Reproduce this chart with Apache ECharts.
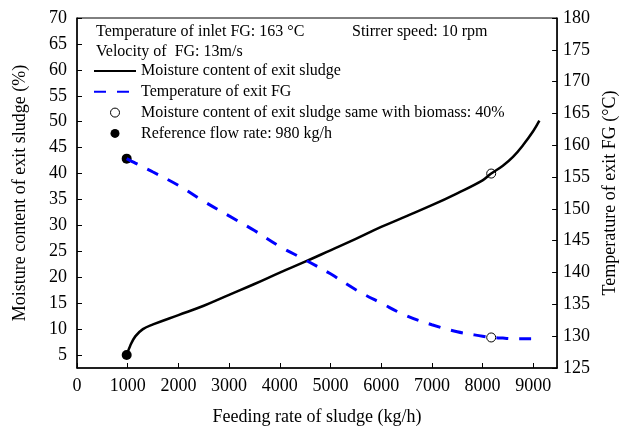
<!DOCTYPE html>
<html>
<head>
<meta charset="utf-8">
<script src="https://cdn.jsdelivr.net/npm/echarts@6/dist/echarts.min.js"></script>
<style>
  html, body { margin: 0; padding: 0; background: #fff; }
  #chart { width: 627px; height: 431px; }
</style>
</head>
<body>
<div id="chart"></div>
<script>
// Feeding rate of sludge (kg/h)
const feedRate = [980, 1050, 1150, 1300, 1500, 2000, 2500, 3000, 3500, 4000, 4500, 5000,
    5500, 6000, 6500, 7000, 7500, 8000, 8170, 8400, 8600, 8800, 9000, 9120];
// Moisture content of exit sludge (%)
const moisture = [5.0, 6.8, 8.6, 10.0, 10.9, 12.7, 14.5, 16.6, 18.7, 20.9, 23.0, 25.2,
    27.4, 29.7, 31.8, 33.9, 36.2, 38.7, 40.0, 41.5, 43.2, 45.5, 48.2, 50.2];
// Temperature of exit FG (°C)
const exitTemp = [157.9, 157.6, 157.2, 156.6, 155.8, 153.7, 151.2, 148.9, 146.6, 144.1, 142.0, 139.8,
    137.3, 135.2, 133.2, 131.8, 130.7, 130.0, 129.8, 129.7, 129.6, 129.6, 129.6, 129.6];

// Marked points
const biomassPoint = { feed: 8170, moisture: 40.0, temp: 129.8 };
const referencePoint = { feed: 980, moisture: 5.0, temp: 157.9 };

// Tick labels
const xTicks = [0, 1000, 2000, 3000, 4000, 5000, 6000, 7000, 8000, 9000];
const leftTicks = [5, 10, 15, 20, 25, 30, 35, 40, 45, 50, 55, 60, 65, 70];

const names = {
    moisture: 'Moisture content of exit sludge',
    temp: 'Temperature of exit FG',
    biomass: 'Moisture content of exit sludge same with biomass: 40%',
    reference: 'Reference flow rate: 980 kg/h'
};

const font = 'Liberation Serif, Times New Roman, serif';
const chart = echarts.init(document.getElementById('chart'));

const pairs = (xs, ys) => xs.map((x, i) => [x, ys[i]]);

// marker styles
const hollow = { color: '#fff', borderColor: '#000', borderWidth: 1, opacity: 1 };
const solid = { color: '#000', opacity: 1 };

chart.setOption({
    animation: false,
    textStyle: { fontFamily: font, color: '#000' },
    grid: {
        left: 77, right: 65, top: 18, bottom: 61,
        show: true, borderColor: '#000', borderWidth: 1
    },
    legend: {
        orient: 'vertical',
        left: 93,
        top: 63,
        padding: 0,
        itemWidth: 42,
        itemHeight: 9,
        itemGap: 4.8,
        textStyle: { fontFamily: font, fontSize: 16, color: '#000' },
        data: [
            { name: names.moisture, itemStyle: { opacity: 0 } },
            { name: names.temp, itemStyle: { opacity: 0 } },
            { name: names.biomass, icon: 'circle', itemStyle: { borderWidth: 1, opacity: 1 } },
            { name: names.reference, icon: 'circle', itemStyle: { opacity: 1 } }
        ]
    },
    graphic: [
        { type: 'text', left: 96, top: 24, style: { text: 'Temperature of inlet FG: 163 °C', font: '16px ' + font, fill: '#000' } },
        { type: 'text', left: 352, top: 24, style: { text: 'Stirrer speed: 10 rpm', font: '16px ' + font, fill: '#000' } },
        { type: 'text', left: 96, top: 44, style: { text: 'Velocity of  FG: 13m/s', font: '16px ' + font, fill: '#000' } }
    ],
    xAxis: {
        type: 'value',
        min: 0,
        max: 9470,
        name: 'Feeding rate of sludge (kg/h)',
        nameLocation: 'middle',
        nameGap: 40,
        nameTextStyle: { fontFamily: font, fontSize: 18, color: '#000' },
        axisLine: { lineStyle: { color: '#000', width: 1.5 } },
        axisTick: { inside: true, length: 5, customValues: xTicks, lineStyle: { color: '#000' } },
        axisLabel: {
            customValues: xTicks, formatter: v => String(v),
            fontFamily: font, fontSize: 18, color: '#000', margin: 9
        },
        splitLine: { show: false }
    },
    yAxis: [
        {
            type: 'value',
            min: 2.5,
            max: 70,
            name: 'Moisture content of exit sludge (%)',
            nameLocation: 'middle',
            nameGap: 48,
            nameTextStyle: { fontFamily: font, fontSize: 18, color: '#000' },
            axisLine: { show: true, lineStyle: { color: '#000', width: 1.5 } },
            axisTick: { show: true, inside: true, length: 5, customValues: leftTicks, lineStyle: { color: '#000' } },
            axisLabel: { customValues: leftTicks, fontFamily: font, fontSize: 18, color: '#000', margin: 10 },
            splitLine: { show: false }
        },
        {
            type: 'value',
            min: 125,
            max: 180,
            interval: 5,
            position: 'right',
            name: 'Temperature of exit FG (°C)',
            nameLocation: 'middle',
            nameGap: 38,
            nameTextStyle: { fontFamily: font, fontSize: 18, color: '#000' },
            axisLine: { show: true, lineStyle: { color: '#000', width: 1.5 } },
            axisTick: { show: true, inside: true, length: 5, lineStyle: { color: '#000' } },
            axisLabel: { fontFamily: font, fontSize: 18, color: '#000', margin: 6 },
            splitLine: { show: false }
        }
    ],
    series: [
        {
            name: names.moisture,
            type: 'line',
            yAxisIndex: 0,
            data: pairs(feedRate, moisture),
            smooth: 0.4,
            showSymbol: false,
            symbol: 'none',
            lineStyle: { color: '#000', width: 2.5 },
            itemStyle: { color: '#000' }
        },
        {
            name: names.temp,
            type: 'line',
            yAxisIndex: 1,
            data: pairs(feedRate, exitTemp),
            smooth: 0.4,
            showSymbol: false,
            symbol: 'none',
            lineStyle: { color: '#0000ff', width: 3, type: [12, 11] },
            itemStyle: { color: '#0000ff' }
        },
        {
            name: names.biomass,
            type: 'scatter',
            yAxisIndex: 0,
            symbol: 'circle',
            symbolSize: 9,
            itemStyle: hollow,
            data: [[biomassPoint.feed, biomassPoint.moisture]]
        },
        {
            name: names.biomass,
            type: 'scatter',
            yAxisIndex: 1,
            symbol: 'circle',
            symbolSize: 9,
            itemStyle: hollow,
            data: [[biomassPoint.feed, biomassPoint.temp]]
        },
        {
            name: names.reference,
            type: 'scatter',
            yAxisIndex: 0,
            symbol: 'circle',
            symbolSize: 10,
            itemStyle: solid,
            data: [[referencePoint.feed, referencePoint.moisture]]
        },
        {
            name: names.reference,
            type: 'scatter',
            yAxisIndex: 1,
            symbol: 'circle',
            symbolSize: 10,
            itemStyle: solid,
            data: [[referencePoint.feed, referencePoint.temp]]
        }
    ]
});
</script>
</body>
</html>
